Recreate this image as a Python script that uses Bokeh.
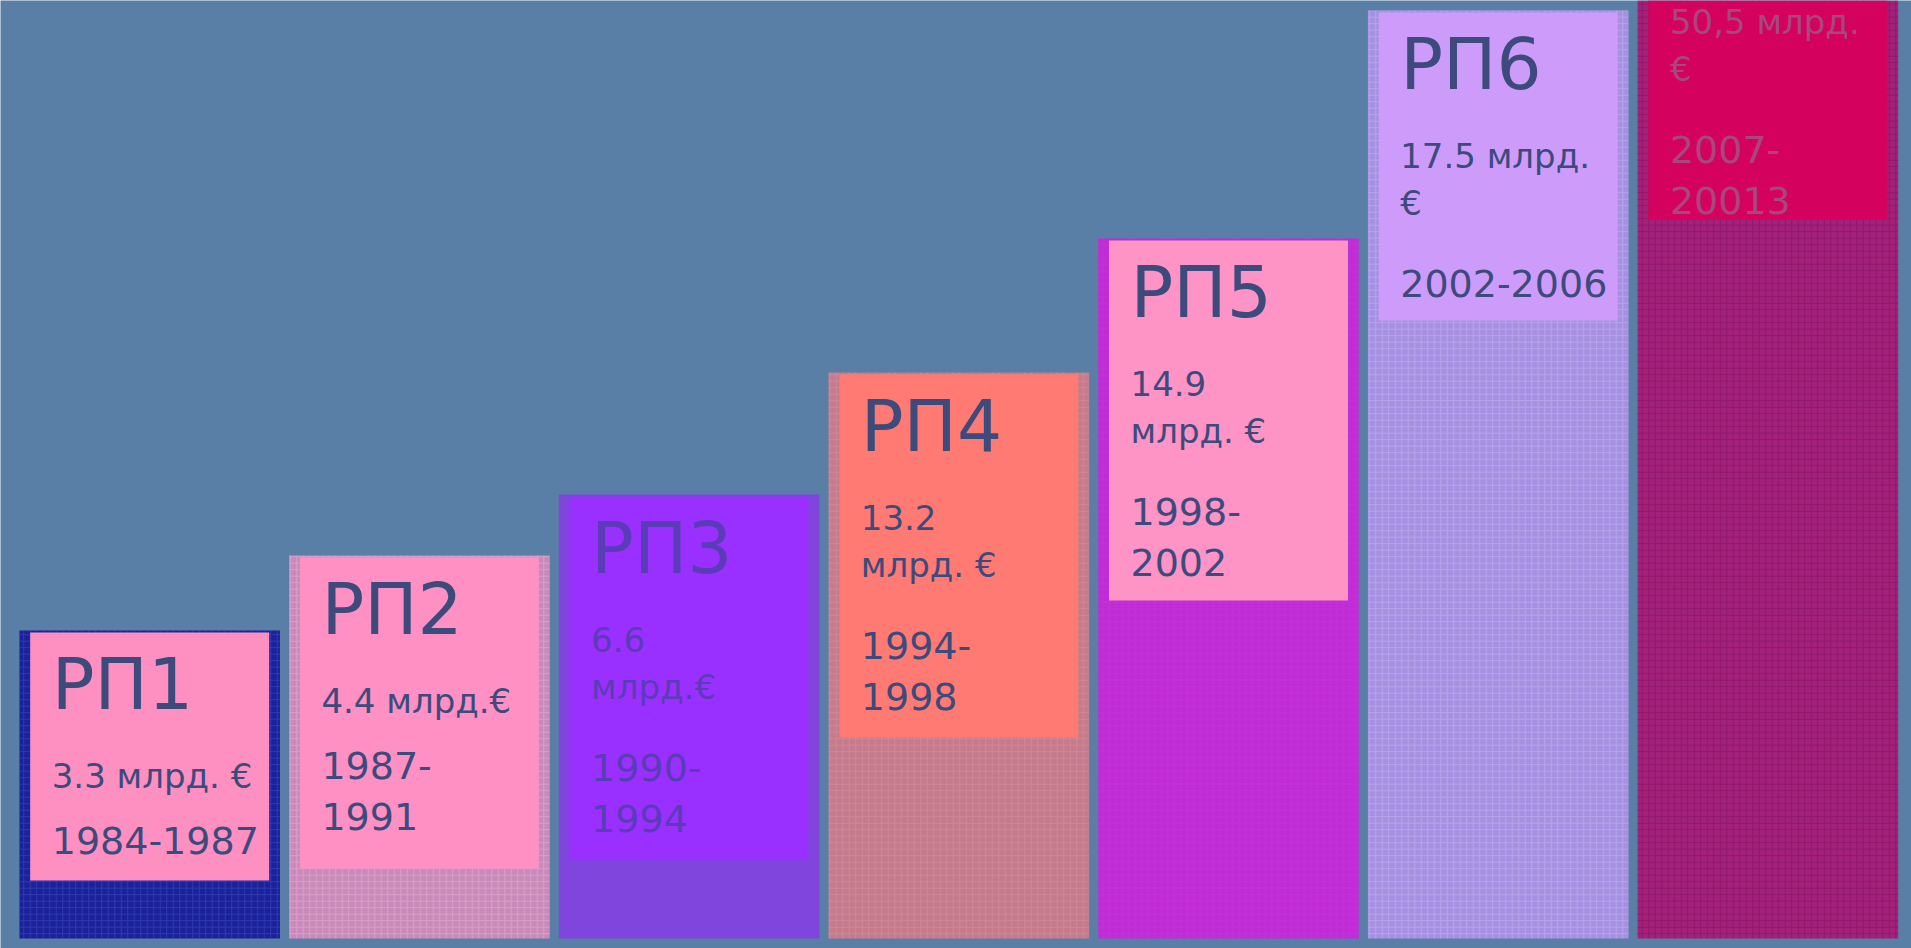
from bokeh.plotting import figure
from bokeh.models import Range1d, ColumnDataSource
from bokeh.core.properties import value
from bokeh.embed import file_html
from bokeh.resources import INLINE

# ---- data ----
programmes = ["РП1", "РП2", "РП3", "РП4", "РП5", "РП6", "РП7"]
funding_lines = [["3.3 млрд. €"], ["4.4 млрд.€"], ["6.6", "млрд.€"], ["13.2", "млрд. €"],
                 ["14.9", "млрд. €"], ["17.5 млрд.", "€"], ["50,5 млрд.", "€"]]
period_lines = [["1984-1987"], ["1987-", "1991"], ["1990-", "1994"], ["1994-", "1998"],
                ["1998-", "2002"], ["2002-2006"], ["2007-", "20013"]]
# staircase step heights (slide units) and bottom of each label card
step_top = [308, 383, 444, 566, 700, 928, 1062]
card_bottom = [58, 70, 79, 201, 338, 618, 719]

# ---- styles ----
BG = "#5a7fa7"
bar_colors = ["#1b2299", "#c98ab9", "#7f45dc", "#c47b8c", "#c12bd6", "#a690e2", "#a3217b"]
hatch_colors = ["#4450c8", "#eab4da", "#7f45dc", "#e49aaa", "#d658ea", "#cbbaf6", "#7a0e58"]
hatch_alphas = [0.5, 0.5, 0.0, 0.4, 0.12, 0.5, 0.5]
card_colors = ["#fe8fc1", "#fe90c3", "#9a30ff", "#fe7a72", "#fe93c6", "#cd9cfb", "#d5015f"]
text_colors = ["#3c4a7c", "#3c4a7c", "#5a3cb8", "#3c4a7c", "#3c4a7c", "#3c4a7c", "#a8467e"]

W, H = 1911, 948
STEP_PX = 269.7
X0 = -149.2 / STEP_PX
idx = list(range(len(programmes)))
p = figure(width=W, height=H, x_range=Range1d(X0, X0 + W / STEP_PX),
           y_range=Range1d(-10, 938), toolbar_location=None, output_backend="svg",
           min_border=0, background_fill_color=BG, border_fill_color=BG)
p.axis.visible = False
p.grid.visible = False
p.outline_line_color = None

src = ColumnDataSource(dict(x=idx, top=step_top, cb=card_bottom,
                            card_top=[t - 2 for t in step_top],
                            color=bar_colors, hc=hatch_colors, ha=hatch_alphas,
                            card=card_colors))
p.vbar(x="x", top="top", bottom=0, width=0.966, source=src, fill_color="color",
       line_color=None, hatch_pattern="+", hatch_scale=6.5, hatch_weight=1,
       hatch_color="hc", hatch_alpha="ha")
p.vbar(x="x", top="card_top", bottom="cb", width=0.886, source=src,
       fill_color="card", line_color=None)

# ---- labels (offsets in px below the step top, corrected for text rendering) ----
FONT = value("DejaVu Sans")
H_SIZE, F_SIZE, P_SIZE = 71, 34, 38
dh, df, dp = 0.37 * H_SIZE, 0.37 * F_SIZE, 0.37 * P_SIZE
hx, hy, ht, hc = [], [], [], []
fx, fy, ft, fc = [], [], [], []
px_, py, pt, pc = [], [], [], []
for i, name in enumerate(programmes):
    top = step_top[i]
    if top - (80 - dh) < 938:
        hx.append(i); hy.append(top - (80 - dh)); ht.append(name); hc.append(text_colors[i])
    off = 158
    for line in funding_lines[i]:
        fx.append(i); fy.append(top - (off - df)); ft.append(line); fc.append(text_colors[i])
        off += 47
    off = off - 47 + (66 if len(funding_lines[i]) == 1 else 82)
    for line in period_lines[i]:
        px_.append(i); py.append(top - (off - dp)); pt.append(line); pc.append(text_colors[i])
        off += 51

p.text(x=hx, y=hy, text=ht, text_color=hc, x_offset=-98, text_font=FONT,
       text_font_size=f"{H_SIZE}px", text_baseline="alphabetic", text_align="left")
p.text(x=fx, y=fy, text=ft, text_color=fc, x_offset=-98, text_font=FONT,
       text_font_size=f"{F_SIZE}px", text_baseline="alphabetic", text_align="left")
p.text(x=px_, y=py, text=pt, text_color=pc, x_offset=-98, text_font=FONT,
       text_font_size=f"{P_SIZE}px", text_baseline="alphabetic", text_align="left")

open("out.html", "w").write(file_html(p, INLINE))
